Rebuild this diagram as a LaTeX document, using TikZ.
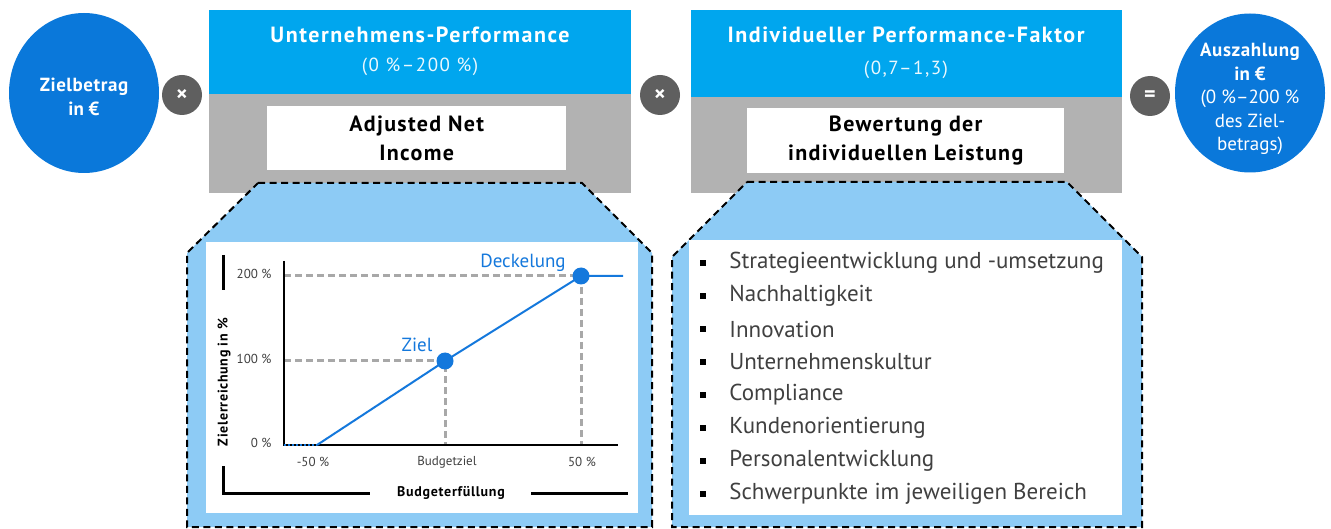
\documentclass[tikz,border=0pt]{standalone}
\usepackage{fontspec}
\setmainfont{PT Sans}
\usetikzlibrary{positioning}
\usetikzlibrary{shapes.geometric}
\usetikzlibrary{calc}

\definecolor{headblue}{HTML}{00A6EE}
\definecolor{circblue}{HTML}{0A78DA}
\definecolor{panelgray}{HTML}{B2B2B2}
\definecolor{opgray}{HTML}{5F5F5F}
\definecolor{zoomblue}{HTML}{8DCBF5}
\definecolor{lineblue}{HTML}{1478DC}
\definecolor{guidegray}{HTML}{A8A8A8}
\definecolor{textgray}{HTML}{404040}

\tikzset{
  headbox/.style={fill=headblue, anchor=north west, inner sep=0pt},
  headtitle/.style={text=white, font=\bfseries\fontsize{22}{22}\selectfont\addfontfeatures{LetterSpace=7}},
  headsub/.style={text=white!92!headblue, font=\fontsize{19}{19}\selectfont\addfontfeatures{LetterSpace=8}},
  namebox/.style={fill=white, anchor=north west, inner sep=0pt, align=center,
    font=\bfseries\fontsize{22}{29}\selectfont\addfontfeatures{LetterSpace=6}},
  bigcirc/.style={ellipse, fill=circblue, inner sep=0pt,
    minimum width=150pt, minimum height=160pt},
  circtext/.style={text=white, align=center, inner sep=0pt, font=\fontsize{19}{23.5}\selectfont},
  opcirc/.style={circle, fill=opgray, text=white, minimum size=40pt, inner sep=0pt,
    font=\bfseries\fontsize{22}{22}\selectfont},
  zoomframe/.style={fill=zoomblue, draw=black, line width=2pt, dash pattern=on 7pt off 4.5pt},
  guide/.style={guidegray, line width=3pt, dash pattern=on 7pt off 4pt},
  ticklbl/.style={text=textgray, font=\fontsize{13}{13}\selectfont},
  axislbl/.style={font=\bfseries\fontsize{14}{14}\selectfont\addfontfeatures{LetterSpace=5}},
  bullet/.style={fill=black, minimum size=6pt, inner sep=0pt},
  listitem/.style={text=textgray, anchor=west, inner sep=0pt, font=\fontsize{23}{23}\selectfont},
}

\begin{document}
\begin{tikzpicture}[x=1pt, y=-1pt]
  \useasboundingbox (0,0) rectangle (1331,529);

  % the two gray panels
  \fill[panelgray] (209,10) rectangle (631,193);
  \fill[panelgray] (691,10) rectangle (1122,193);

  % headers
  \node[headbox, minimum width=422pt, minimum height=84pt] (perfhead) at (209,10) {};
  \node[headtitle] (perftitle) at (420,35) {Unternehmens-Performance};
  \node[headsub] (perfsub) at (420,67) {(0~\%--200~\%)};
  \node[headbox, minimum width=431pt, minimum height=87pt] (ipfhead) at (691,10) {};
  \node[headtitle] (ipftitle) at (906,35) {Individueller Performance-Faktor};
  \node[headsub] (ipfsub) at (906,70) {(0,7--1,3)};

  % white name boxes
  \node[namebox, minimum width=299pt, minimum height=64pt] (ani) at (267,106) {Adjusted Net\\Income};
  \node[namebox, minimum width=317pt, minimum height=65pt] (leist) at (747,108) {Bewertung der\\individuellen Leistung};

  % circles and operators
  \node[bigcirc] (ziel) at (84,93) {};
  \node[circtext] (zieltext) at (84,97) {\bfseries\addfontfeatures{LetterSpace=3}Zielbetrag\\\bfseries in €};
  \node[opcirc] (op1) at (182,95) {×};
  \node[opcirc] (op2) at (660,95) {×};
  \node[opcirc] (op3) at (1150,96) {=};
  \node[bigcirc, minimum height=159pt] (ausz) at (1250,93) {};
  \node[circtext] (ausztext) at (1250,99)
    {{\bfseries\addfontfeatures{LetterSpace=3}Auszahlung}\\\bfseries in €\\(0~\%--200~\%\\des Ziel-\\betrags)};

  % zoom frames
  \draw[zoomframe] (258,183) -- (582,183) -- (652,253) -- (652,527) -- (187,527) -- (187,253) -- cycle;
  \draw[zoomframe] (747,182) -- (1067,182) -- (1142,257) -- (1142,527) -- (672,527) -- (672,257) -- cycle;
  \fill[white] (206,242) rectangle (638,513);
  \fill[white] (689,240) rectangle (1122,515);

  % Define the coordinates of the chart
  \coordinate (o) at (284,445);
  \coordinate (ytop) at (284,261);
  \coordinate (xend) at (618,445);
  \coordinate (start) at (317,445);
  \coordinate (target) at (445,361);
  \coordinate (cap) at (581,276);
  \coordinate (capend) at (623,276);

  % Draw the lines
  \draw[guide] (o |- cap) -- (cap) -- (cap |- o);
  \draw[guide] (o |- target) -- (target) -- (target |- o);
  \draw[line width=1.3pt] (ytop) -- (o) -- (xend);
  \draw[lineblue, line width=2pt, dotted] (o) -- (start);
  \draw[lineblue, line width=2pt] (start) -- (target) -- (cap) -- (capend);
  \fill[lineblue] (target) circle (8.5pt);
  \fill[lineblue] (cap) circle (8.5pt);
  \node[lineblue, font=\fontsize{19}{19}\selectfont] (ziellbl) at (417,345) {Ziel};
  \node[lineblue, font=\fontsize{19}{19}\selectfont] (decklbl) at (523,263) {Deckelung};

  \foreach \yy/\lbl in {276/200~\%, 361/100~\%, 445/0~\%}
    \node[ticklbl, anchor=east] (ytick\yy) at (275,\yy-2) {\lbl};
  \foreach \xx/\lbl in {313/-50~\%, 447/Budgetziel, 582/50~\%}
    \node[ticklbl] (xtick\xx) at (\xx,462) {\lbl};

  \node[axislbl, rotate=90] (ylabel) at (224,382) {Zielerreichung in \%};
  \node[axislbl] (xlabel) at (451,493) {Budgeterfüllung};
  \draw[line width=3pt] (223,255) -- (223,290);
  \draw[line width=3pt] (223,466) -- (223,493) -- (370,493);
  \draw[line width=3pt] (531,493) -- (628,493);

  % criteria list
  \foreach \entry [count=\i from 0] in {Strategieentwicklung und -umsetzung, Nachhaltigkeit,
      Innovation, Unternehmenskultur, Compliance, Kundenorientierung,
      Personalentwicklung, Schwerpunkte im jeweiligen Bereich} {
    \node[bullet] (b\i) at (703,263+33*\i) {};
    \node[listitem, right=23pt of b\i] (crit\i) {\entry};
  }
\end{tikzpicture}
\end{document}
